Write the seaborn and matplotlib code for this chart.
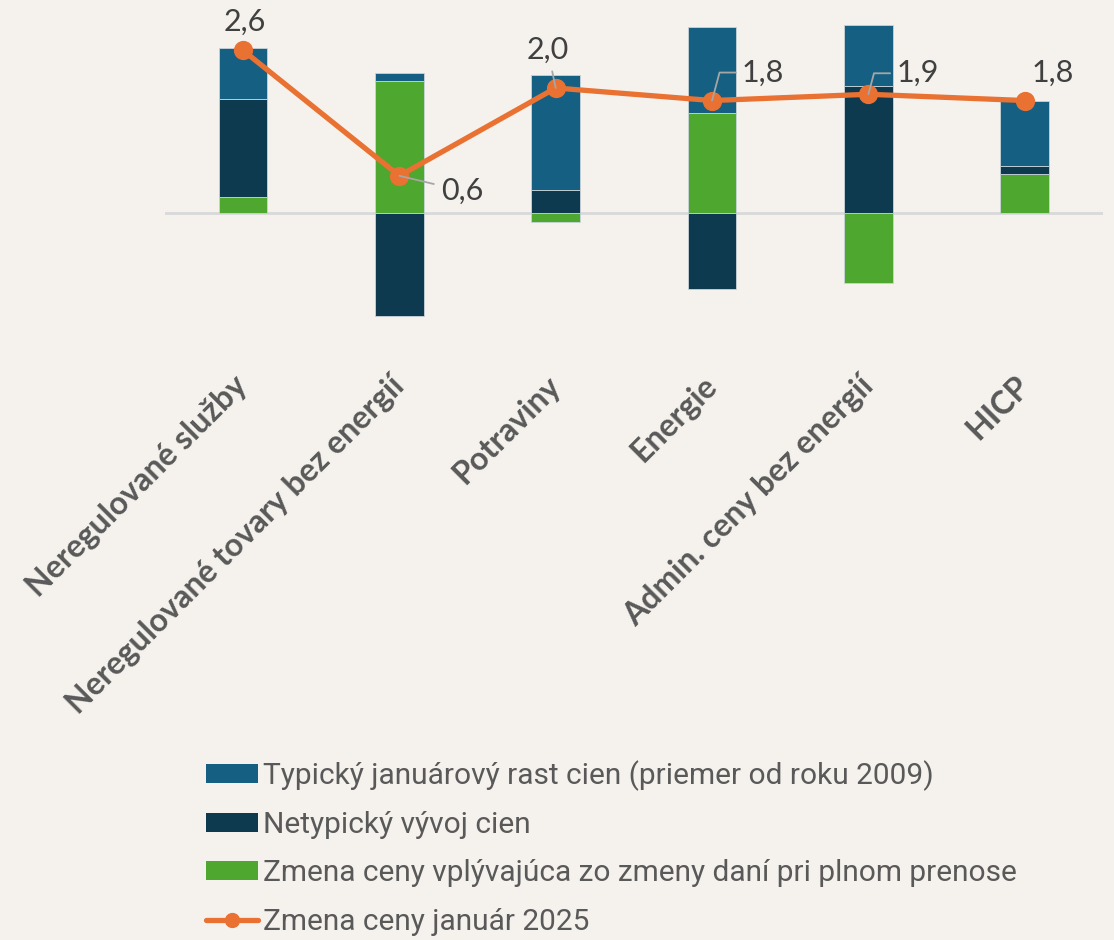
import matplotlib

matplotlib.use("Agg")
import matplotlib.pyplot as plt
import numpy as np
import pandas as pd
import seaborn as sns
from matplotlib.lines import Line2D
from matplotlib.patches import Patch

sns.set_theme(style="white")
plt.rcParams["font.family"] = ["Lato", "DejaVu Sans"]

# data
categories = ["Neregulované služby", "Neregulované tovary bez energií", "Potraviny",
              "Energie", "Admin. ceny bez energií", "HICP"]
typical = [0.80, 0.13, 1.83, 1.38, 0.97, 1.03]
atypical = [1.57, -1.63, 0.37, -1.21, 2.03, 0.13]
tax = [0.26, 2.11, -0.14, 1.60, -1.11, 0.63]
total = [2.6, 0.6, 2.0, 1.8, 1.9, 1.8]
total_labels = ["2,6", "0,6", "2,0", "1,8", "1,9", "1,8"]

series_names = ["Typický januárový rast cien (priemer od roku 2009)",
                "Netypický vývoj cien",
                "Zmena ceny vplývajúca zo zmeny daní pri plnom prenose",
                "Zmena ceny január 2025"]

BLUE, DARK, GREEN, ORANGE = "#156082", "#0E3A50", "#4EA72E", "#E97132"
BG = "#F5F2ED"

df = pd.DataFrame({"cat": categories, "typ": typical, "atyp": atypical,
                   "tax": tax, "total": total})

# stacking: positive part green -> dark -> blue, negatives start at zero
pos_b = np.zeros(len(df))
neg_b = np.zeros(len(df))
bottoms = {}
for col in ["tax", "atyp", "typ"]:
    v = df[col].to_numpy()
    bottoms[col] = np.where(v >= 0, pos_b, neg_b)
    pos_b = pos_b + np.clip(v, 0, None)
    neg_b = neg_b + np.clip(v, None, 0)

fig = plt.figure(figsize=(11.14, 9.4), dpi=100, facecolor=BG)
ax = fig.add_axes([0.148, 0.6128, 0.842, 0.387])
ax.set_facecolor(BG)

ax.axhline(0, color="#D9D9D9", lw=2, zorder=0)
colors = {"tax": GREEN, "atyp": DARK, "typ": BLUE}
for col in ["tax", "atyp", "typ"]:
    sns.barplot(data=df, x="cat", y=col, bottom=bottoms[col], color=colors[col],
                width=0.31, saturation=1, edgecolor="#C9D4D9", linewidth=0.6,
                ax=ax, zorder=2)

sns.pointplot(data=df, x="cat", y="total", color=ORANGE, markers="o",
              markersize=11, linewidth=3.8, ax=ax, zorder=3)

# value labels: (dx, dy) text offset in pixels, leader style
offsets = [(2, 29, None), (63, -15, "line"), (-8, 38, "line"),
           (51, 28, "bend"), (49, 21, "bend"), (28, 28, None)]
for i, (lab, (dx, dy, lead)) in enumerate(zip(total_labels, offsets)):
    arrow = None
    if lead == "line":
        arrow = dict(arrowstyle="-", color="#A6A6A6", lw=1.3, shrinkA=3, shrinkB=0)
    elif lead == "bend":
        arrow = dict(arrowstyle="-", color="#A6A6A6", lw=1.3, shrinkA=2, shrinkB=0,
                     connectionstyle="angle,angleA=0,angleB=75,rad=0")
    ax.annotate(lab, (i, total[i]), xytext=(dx, dy), textcoords="offset pixels",
                ha="center", va="center", fontsize=22, color="#404040", zorder=4,
                arrowprops=arrow)

ax.set_ylim(-2.4, 3.4)
ax.set_xlim(-0.5, 5.5)
ax.set_xlabel("")
ax.set_ylabel("")
ax.set_yticks([])
sns.despine(ax=ax, left=True, bottom=True)
ax.tick_params(axis="x", length=0, pad=12)
ax.set_xticks(range(len(categories)))
ax.set_xticklabels(categories, rotation=45, ha="right", va="center",
                   rotation_mode="anchor", fontsize=23, fontweight="bold",
                   color="#595959")

handles = [Patch(facecolor=BLUE, edgecolor="none"),
           Patch(facecolor=DARK, edgecolor="none"),
           Patch(facecolor=GREEN, edgecolor="none"),
           Line2D([0], [0], color=ORANGE, lw=3.8, marker="o", markersize=10)]
fig.legend(handles, series_names, loc="upper left",
           bbox_to_anchor=(0.174, 1 - 748 / 940), frameon=False,
           prop={"family": ["Roboto", "DejaVu Sans"], "size": 21.5},
           labelcolor="#595959", handlelength=1.75, handleheight=0.6,
           handletextpad=0.15, labelspacing=0.68, borderaxespad=0)

fig.savefig("out.png", dpi=100, facecolor=BG)
